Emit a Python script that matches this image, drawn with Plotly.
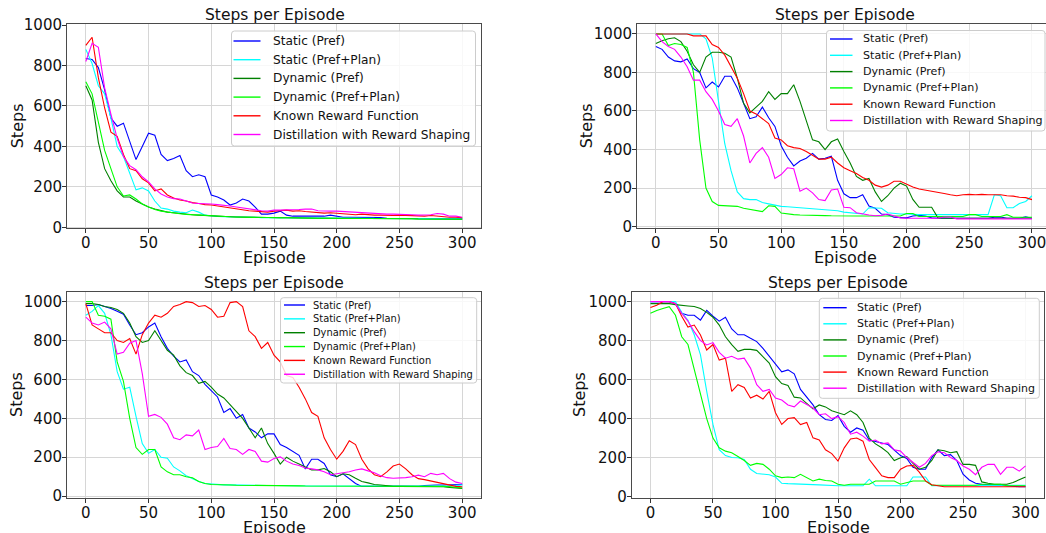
import plotly.graph_objects as go

EPISODES = list(range(0, 301, 5))
SERIES = ["Static (Pref)", "Static (Pref+Plan)", "Dynamic (Pref)",
          "Dynamic (Pref+Plan)", "Known Reward Function", "Distillation with Reward Shaping"]
COLORS = ["#0000ff", "#00ffff", "#008000", "#00ff00", "#ff0000", "#ff00ff"]
TITLE = "Steps per Episode"
X_TICKS = [0, 50, 100, 150, 200, 250, 300]
Y_TICKS = [0, 200, 400, 600, 800, 1000]

# ---- Subplot 1 (top-left)
a_static_pref = [835,830,790,680,540,500,515,430,335,400,
                 465,455,360,330,340,355,280,250,260,250,
                 160,150,135,110,120,140,130,100,65,65,
                 70,80,60,55,55,55,55,55,55,60,
                 55,50,50,50,48,48,48,48,45,45,
                 45,45,42,45,45,45,45,45,42,42,
                 42]
a_static_plan = [880,810,700,660,540,400,350,270,185,195,
                 180,130,95,90,80,75,72,85,75,60,
                 55,53,52,52,50,50,50,50,48,48,
                 48,48,48,47,47,47,46,46,46,46,
                 45,45,45,45,45,45,44,44,44,44,
                 44,44,43,43,43,43,43,43,42,42,
                 42]
a_dyn_pref = [700,630,420,290,230,180,150,150,130,115,
              100,90,82,75,72,68,65,62,60,58,
              55,54,53,52,51,50,50,49,49,48,
              48,47,47,46,46,46,45,45,45,45,
              44,44,44,44,43,43,43,43,42,42,
              42,42,42,41,41,41,41,41,40,40,
              40]
a_dyn_plan = [720,660,520,380,290,200,155,160,140,115,
              100,88,80,75,70,67,64,62,60,57,
              55,54,53,52,51,50,50,49,49,48,
              48,47,47,46,46,46,45,45,45,45,
              44,44,44,44,43,43,43,43,42,42,
              42,42,42,41,41,41,41,41,40,40,
              40]
a_known = [900,940,740,590,470,450,360,290,280,240,
           220,180,190,160,145,135,130,122,118,112,
           110,105,100,98,90,85,82,80,77,75,
           80,82,85,80,82,78,75,72,70,72,
           70,68,65,62,65,62,60,60,58,58,
           60,58,56,55,55,58,55,52,50,50,
           48]
a_distill = [820,910,890,690,560,440,350,305,285,250,
             225,190,165,150,142,140,130,120,118,118,
             115,112,110,105,100,95,90,85,82,80,
             85,85,85,85,88,90,90,82,80,80,
             80,78,75,72,70,70,68,66,65,65,
             65,63,62,60,60,62,68,65,55,55,
             50]

# ---- Subplot 2 (top-right)
b_static_pref = [935,920,880,860,855,870,820,800,720,750,
                 725,780,780,720,640,560,570,620,565,520,
                 420,360,315,340,355,380,350,355,365,240,
                 170,150,150,165,107,95,65,62,48,45,
                 45,55,58,55,45,43,43,43,43,43,
                 43,43,43,43,48,50,43,43,43,50,
                 43]
b_static_plan = [1000,1000,1000,1000,1000,1000,1000,1000,975,875,
                 650,430,290,180,145,140,140,125,118,110,
                 105,103,100,98,95,92,90,88,85,82,
                 75,72,70,65,98,98,95,72,68,65,
                 65,62,62,62,62,62,62,62,62,62,
                 62,62,62,62,165,160,98,98,120,130,
                 160]
b_dyn_pref = [950,965,975,980,960,910,840,800,880,905,
              905,900,880,770,640,590,620,650,700,660,
              690,690,736,650,550,450,440,400,440,455,
              390,330,260,240,250,180,130,160,200,225,
              210,141,100,100,100,45,43,43,43,43,
              43,43,43,43,43,43,43,43,43,43,
              43]
b_dyn_plan = [1000,1000,940,950,945,930,800,450,200,130,
              110,108,106,105,95,88,82,78,108,105,
              70,65,62,60,60,58,58,57,56,55,
              55,55,55,55,55,55,55,55,55,55,
              68,68,52,52,52,52,52,52,52,52,
              62,62,52,52,52,52,62,48,48,48,
              48]
b_known = [1000,1000,1000,1000,1000,1000,990,990,990,945,
           930,890,830,770,690,600,585,560,535,460,
           450,420,410,405,390,370,350,350,360,330,
           305,290,275,255,240,215,205,215,235,235,
           220,205,195,190,185,178,172,165,160,165,
           167,165,167,165,165,165,160,158,152,150,
           140]
b_distill = [1000,960,935,920,880,830,760,760,700,660,
             600,530,520,560,470,330,380,410,360,250,
             270,305,300,184,200,175,140,135,190,195,
             100,98,72,65,60,56,58,65,55,45,
             43,43,43,43,43,43,50,50,40,40,
             40,40,40,40,40,40,40,40,40,40,
             40]

# ---- Subplot 3 (bottom-left)
c_static_pref = [980,980,985,975,965,950,935,880,830,840,
                 870,890,820,760,720,690,700,640,620,575,
                 540,510,430,450,400,420,350,330,300,320,
                 320,265,250,230,210,140,190,190,168,110,
                 100,115,90,65,50,50,50,50,50,50,
                 50,50,50,50,55,57,57,57,57,57,
                 60]
c_static_plan = [930,950,980,940,830,640,550,560,410,270,
                 220,240,200,195,150,130,105,90,75,65,
                 62,62,58,58,57,56,55,55,55,55,
                 55,54,54,54,53,52,52,52,52,52,
                 52,51,51,51,51,50,50,50,50,50,
                 50,50,50,50,50,50,50,50,52,55,
                 58]
c_dyn_pref = [990,990,985,975,970,960,940,890,820,790,
              800,850,800,750,725,670,635,620,580,590,
              560,525,505,470,434,400,350,300,350,270,
              220,165,200,180,165,150,135,135,142,125,
              100,115,110,92,75,68,60,57,52,50,
              50,50,50,50,50,50,50,48,45,42,
              40]
c_dyn_plan = [1000,1000,930,925,910,690,590,400,250,215,
              240,240,150,125,110,110,100,95,75,65,
              60,58,57,57,56,56,55,55,55,54,
              54,54,53,53,53,52,52,52,52,52,
              51,51,51,51,50,50,50,50,50,50,
              50,50,50,50,52,52,52,50,48,45,
              42]
c_known = [990,880,860,840,840,800,790,810,730,830,
           890,930,920,940,975,985,1000,995,975,980,
           960,920,925,995,1000,975,850,820,760,790,
           725,690,620,610,560,500,430,410,300,240,
           190,230,285,265,190,140,110,100,125,155,
           165,140,110,90,85,78,72,65,58,50,
           48]
c_distill = [920,890,880,895,860,730,740,786,800,630,
             410,420,405,370,300,290,315,310,340,240,
             250,255,297,245,240,215,240,230,180,175,
             194,202,180,165,158,145,140,135,125,110,
             115,120,125,134,140,130,120,105,95,92,
             92,95,100,108,100,117,110,117,90,72,
             65]

# ---- Subplot 4 (bottom-right)
d_static_pref = [1000,1000,1000,1000,990,940,930,930,905,955,
                 925,900,920,860,830,830,812,795,760,720,
                 676,640,650,630,550,510,470,420,395,390,
                 415,360,330,352,340,290,284,275,267,240,
                 210,195,150,140,140,200,240,210,215,185,
                 115,85,68,63,63,60,58,55,50,50,
                 50]
d_static_plan = [1000,1000,1000,1000,1000,945,905,830,727,540,
                 370,240,210,200,199,190,140,118,114,112,
                 100,68,66,64,63,62,61,60,58,55,
                 55,55,55,55,55,89,55,55,55,55,
                 55,55,100,100,100,55,55,55,55,55,
                 55,58,58,58,58,58,58,58,58,58,
                 58]
d_dyn_pref = [990,990,990,990,985,980,978,975,965,945,
              920,880,820,780,745,755,755,750,718,685,
              615,580,570,510,506,480,450,470,460,440,
              430,420,440,420,380,300,270,250,225,185,
              199,205,170,140,150,185,240,235,225,230,
              165,165,160,75,68,63,63,63,72,85,
              100]
d_dyn_plan = [940,955,965,974,930,820,780,650,520,400,
              300,250,233,225,205,185,160,170,165,140,
              106,97,100,97,114,97,80,89,82,80,
              63,58,63,63,63,63,80,80,80,80,
              63,72,80,80,80,58,58,58,58,58,
              58,58,58,63,63,63,63,55,55,55,
              55]
d_known = [970,982,1000,1000,990,925,870,880,829,752,
           780,700,710,540,574,560,505,520,500,540,
           430,370,400,405,369,380,301,290,240,220,
           182,250,295,300,284,190,148,106,97,97,
           140,157,160,125,80,60,55,50,50,50,
           50,50,50,50,50,50,50,50,50,50,
           50]
d_distill = [1000,1000,1000,1000,990,940,900,846,800,778,
             790,740,710,720,705,710,659,574,540,550,
             505,495,470,460,490,471,454,420,425,400,
             410,380,320,330,310,284,290,270,275,240,
             233,200,175,150,170,210,230,225,200,185,
             157,140,112,150,165,165,114,150,150,130,
             157]

PANELS = [
    [a_static_pref, a_static_plan, a_dyn_pref, a_dyn_plan, a_known, a_distill],
    [b_static_pref, b_static_plan, b_dyn_pref, b_dyn_plan, b_known, b_distill],
    [c_static_pref, c_static_plan, c_dyn_pref, c_dyn_plan, c_known, c_distill],
    [d_static_pref, d_static_plan, d_dyn_pref, d_dyn_plan, d_known, d_distill],
]

W, H = 1046, 533
FONT = "DejaVu Sans"


def px(x):
    return x / W


def py(y):
    return 1 - y / H


# plot area geometry in pixels
GEOM = [
    dict(l=67, r=481, t=24.3, b=228.3, xr=[-15, 315], yr=[-5, 1004], xc=274.5, mirror_y=True),
    dict(l=637, r=1046, t=24.3, b=228.3, xr=[-15, 311.2], yr=[-9, 1050], xc=845, mirror_y=False),
    dict(l=67, r=481, t=292.3, b=497.5, xr=[-15, 315], yr=[-7, 1048], xc=274, mirror_y=True),
    dict(l=631.7, r=1044.3, t=292.3, b=497.5, xr=[-15, 315], yr=[-5, 1048], xc=838, mirror_y=True),
]
STEPS_X = [17, 586, 17, 580]
# legend boxes (pixels): box, first row centre, row step, line segment, text start, font size
LEGENDS = [
    dict(x0=231.5, x1=475.5, y0=31, y1=146, row0=41, step=18.7, s0=233.5, s1=260.5, tx=270.5, size=12.2),
    dict(x0=826.5, x1=1045, y0=30.5, y1=131, row0=39, step=16.3, s0=830, s1=852.5, tx=860.5, size=11.1),
    dict(x0=280.5, x1=476.7, y0=297.7, y1=383, row0=305, step=13.85, s0=284, s1=305, tx=311.3, size=9.9),
    dict(x0=819.3, x1=1039.3, y0=298.3, y1=398.3, row0=307.7, step=16.1, s0=823.3, s1=846.7, tx=854.7, size=11.0),
]


def rounded_rect_path(x0, y0, x1, y1, r):
    pts = [
        f"M {px(x0 + r)},{py(y0)}",
        f"L {px(x1 - r)},{py(y0)}",
        f"Q {px(x1)},{py(y0)} {px(x1)},{py(y0 + r)}",
        f"L {px(x1)},{py(y1 - r)}",
        f"Q {px(x1)},{py(y1)} {px(x1 - r)},{py(y1)}",
        f"L {px(x0 + r)},{py(y1)}",
        f"Q {px(x0)},{py(y1)} {px(x0)},{py(y1 - r)}",
        f"L {px(x0)},{py(y0 + r)}",
        f"Q {px(x0)},{py(y0)} {px(x0 + r)},{py(y0)}",
        "Z",
    ]
    return " ".join(pts)


fig = go.Figure()
annotations = []
shapes = []
layout = dict(width=W, height=H, margin=dict(l=0, r=0, t=0, b=0, autoexpand=False),
              paper_bgcolor="white", plot_bgcolor="white",
              font=dict(family=FONT, color="#000000"), showlegend=False)

for i, (g, data) in enumerate(zip(GEOM, PANELS)):
    n = "" if i == 0 else str(i + 1)
    for name, color, vals in zip(SERIES, COLORS, data):
        fig.add_trace(go.Scatter(x=EPISODES, y=vals, mode="lines", name=name,
                                 line=dict(color=color, width=1.1),
                                 xaxis="x" + n, yaxis="y" + n))
    common = dict(showgrid=True, gridcolor="#d6d6d6", gridwidth=0.8, zeroline=False,
                  showline=True, linecolor="#4a4a4a", linewidth=1,
                  ticks="outside", ticklen=4, tickwidth=0.8, tickcolor="#333333",
                  tickfont=dict(family=FONT, size=15, color="#111111"),
                  ticklabeloverflow="allow")
    layout["xaxis" + n] = dict(domain=[px(g["l"]), px(g["r"])], range=g["xr"],
                               tickvals=X_TICKS, anchor="y" + n, mirror=True,
                               ticklabelstandoff=-3, **common)
    layout["yaxis" + n] = dict(domain=[py(g["b"]), py(g["t"])], range=g["yr"],
                               tickvals=Y_TICKS, anchor="x" + n,
                               mirror=g["mirror_y"], ticklabelstandoff=-3, **common)

    # legend drawn as box + line samples + text
    lg = LEGENDS[i]
    shapes.append(dict(type="path", xref="paper", yref="paper",
                       path=rounded_rect_path(lg["x0"], lg["y0"], lg["x1"], lg["y1"], 3),
                       fillcolor="rgba(255,255,255,0.82)", line=dict(color="#cccccc", width=1),
                       layer="above"))
    for k, (name, color) in enumerate(zip(SERIES, COLORS)):
        yc = lg["row0"] + k * lg["step"]
        shapes.append(dict(type="line", xref="paper", yref="paper",
                           x0=px(lg["s0"]), x1=px(lg["s1"]), y0=py(yc), y1=py(yc),
                           line=dict(color=color, width=1.4), layer="above"))
        annotations.append(dict(text=name, x=px(lg["tx"]), y=py(yc), xref="paper", yref="paper",
                                showarrow=False, xanchor="left", yanchor="middle",
                                font=dict(family=FONT, size=lg["size"], color="#111111")))

    annotations.append(dict(text=TITLE, x=px(g["xc"]), y=py(g["t"] - 9.5), xref="paper",
                            yref="paper", showarrow=False, xanchor="center", yanchor="middle",
                            font=dict(family=FONT, size=15.5, color="#111111")))
    annotations.append(dict(text="Episode", x=px(g["xc"]),
                            y=py(g["b"] + 29.5), xref="paper", yref="paper", showarrow=False,
                            xanchor="center", yanchor="middle",
                            font=dict(family=FONT, size=16, color="#111111")))
    annotations.append(dict(text="Steps", x=px(STEPS_X[i]), y=py((g["t"] + g["b"]) / 2),
                            xref="paper", yref="paper", showarrow=False, textangle=-90,
                            xanchor="center", yanchor="middle",
                            font=dict(family=FONT, size=16, color="#111111")))

layout["annotations"] = annotations
layout["shapes"] = shapes
fig.update_layout(**layout)
fig.write_html("out.html")
